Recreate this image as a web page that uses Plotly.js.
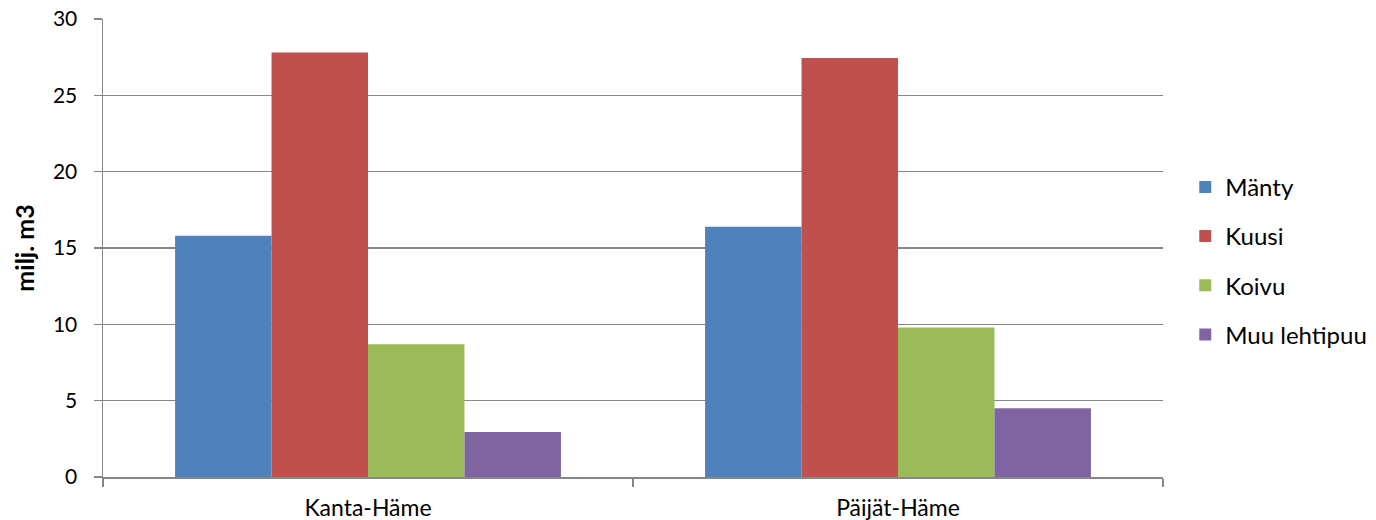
<!DOCTYPE html>
<html><head><meta charset="utf-8">
<script src="https://cdn.plot.ly/plotly-3.0.1.min.js"></script>
<style>body{margin:0;background:#fff}#c{width:1376px;height:520px}</style>
</head><body><div id="c"></div>
<script>
const categories = ["Kanta-Häme", "Päijät-Häme"];
const seriesNames = ["Mänty", "Kuusi", "Koivu", "Muu lehtipuu"];
const manty = [15.8, 16.4];
const kuusi = [27.8, 27.45];
const koivu = [8.7, 9.8];
const muuLehtipuu = [2.95, 4.5];
const yTicks = [0, 5, 10, 15, 20, 25, 30];
const colors = ["#4F81BD", "#C0504D", "#9BBB59", "#8064A2"];
const values = [manty, kuusi, koivu, muuLehtipuu];

const traces = values.map((v, i) => ({
  type: "bar", x: categories, y: v, name: seriesNames[i],
  marker: {color: colors[i], line: {width: 0}},
  legendgroup: "g" + i, hoverinfo: "skip"
}));

const layout = {
  width: 1376, height: 520,
  margin: {l: 103, r: 213, t: 19, b: 43, autoexpand: false},
  barmode: "group", bargap: 0.272, bargroupgap: 0,
  font: {family: "Lato, 'Open Sans', sans-serif", size: 18, color: "#000"},
  plot_bgcolor: "#fff", paper_bgcolor: "#fff",
  xaxis: {
    type: "category", tickson: "boundaries", ticks: "outside", ticklen: 8,
    tickcolor: "#868686", tickwidth: 1.5, showline: true, linecolor: "#868686", linewidth: 1.5,
    showgrid: false, tickfont: {size: 23}, automargin: false, ticklabelstandoff: 10
  },
  yaxis: {
    range: [0, 30], tickvals: yTicks, ticks: "outside", ticklen: 8, tickcolor: "#868686", tickwidth: 1.5,
    showline: true, linecolor: "#868686", linewidth: 1.5, gridcolor: "#868686", gridwidth: 1.5,
    zeroline: false, tickfont: {size: 21}, ticklabelstandoff: 12,
    title: {text: "<b>milj. m3</b>", font: {size: 25}, standoff: 11}, automargin: false
  },
  showlegend: true,
  legend: {x: 1.021, y: 0.472, yanchor: "middle", xanchor: "left", font: {size: 24},
           traceorder: "grouped", tracegroupgap: 15, itemwidth: 30},
};
Plotly.newPlot("c", traces, layout, {staticPlot: true});
</script></body></html>
